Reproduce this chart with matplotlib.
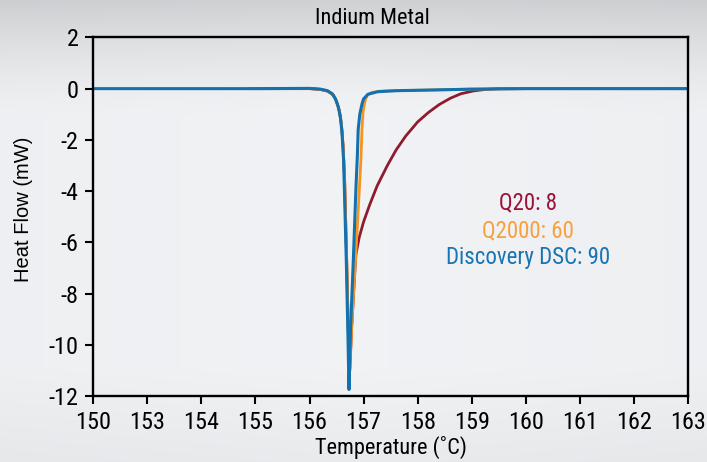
import numpy as np
import matplotlib
matplotlib.use("Agg")
import matplotlib.pyplot as plt

plt.rcParams["font.family"] = ["Roboto Condensed", "Liberation Sans", "DejaVu Sans"]
plt.rcParams["axes.unicode_minus"] = False

# Discovery DSC (blue)
dsc_temp = [152, 155, 156.0, 156.2, 156.33, 156.42, 156.48, 156.53, 156.57, 156.60,
            156.63, 156.68, 156.71, 156.73, 156.76, 156.81, 156.86, 156.885, 156.90,
            156.93, 156.97, 157.0, 157.08, 157.26, 157.6, 158.1, 159.0, 160.0, 163.0]
dsc_flow = [0, 0, 0.01, -0.02, -0.08, -0.2, -0.4, -0.7, -1.1, -1.7,
            -2.8, -6.7, -9.6, -11.75, -9.3, -6.7, -3.8, -2.6, -1.6,
            -1.0, -0.6, -0.4, -0.22, -0.12, -0.08, -0.06, -0.02, 0, 0]

# Q2000 (orange)
q2000_temp = [154.9, 156.0, 156.2, 156.34, 156.44, 156.5, 156.55, 156.59, 156.62, 156.65,
              156.69, 156.72, 156.745, 156.78, 156.85, 156.92, 156.95, 156.97, 156.99,
              157.03, 157.07, 157.15, 157.3, 157.6, 158.1, 159.0, 160.0, 163.0]
q2000_flow = [0, 0, -0.03, -0.1, -0.25, -0.5, -0.85, -1.4, -2.2, -3.6,
              -6.9, -9.7, -11.0, -9.3, -6.7, -4.0, -2.8, -1.6, -0.9,
              -0.45, -0.25, -0.15, -0.1, -0.08, -0.06, -0.02, 0, 0]

# Q20 (dark red)
q20_temp = [154.9, 156.0, 156.2, 156.34, 156.44, 156.5, 156.55, 156.59, 156.62, 156.65,
            156.69, 156.72, 156.745, 156.78, 156.85, 156.86, 156.92, 157.0, 157.11,
            157.25, 157.44, 157.6, 157.78, 158.0, 158.2, 158.4, 158.61, 158.8, 159.03,
            159.25, 159.5, 163.0]
q20_flow = [0, 0, -0.03, -0.1, -0.25, -0.5, -0.85, -1.4, -2.2, -3.6,
            -6.9, -9.7, -11.0, -9.3, -6.7, -6.45, -5.8, -5.2, -4.55,
            -3.8, -3.0, -2.4, -1.85, -1.3, -0.93, -0.62, -0.37, -0.2, -0.09,
            -0.03, 0, 0]

x_ticks = [152, 153, 154, 155, 156, 157, 158, 159, 160, 161, 162, 163]
x_tick_labels = ["150", "153", "154", "155", "156", "157", "158", "159", "160", "161", "162", "163"]
y_ticks = [2, 0, -2, -4, -6, -8, -10, -12]

labels = ["Q20: 8", "Q2000: 60", "Discovery DSC: 90"]
label_y = [-4.46, -5.55, -6.6]

blue = "#1272b0"
orange = "#f7941d"
red = "#8e1b2e"
text_colors = ["#9b1239", "#f8a040", "#1874b3"]

fig = plt.figure(figsize=(7.07, 4.62), dpi=100)

# soft grey backdrop
bg = fig.add_axes([0, 0, 1, 1], zorder=-10)
yy = np.linspace(0, 1, 200)[:, None]
xx = np.linspace(0, 1, 300)[None, :]
shade = 0.955 - 0.13 * np.clip(1 - yy / 0.25, 0, 1) ** 1.5 - 0.03 * np.clip((yy - 0.8) / 0.2, 0, 1) \
        - 0.02 * np.abs(xx - 0.5)
bg.imshow(np.dstack([shade - 0.01, shade - 0.005, shade + 0.005]).clip(0, 1),
          aspect="auto", extent=[0, 1, 0, 1], origin="upper")
bg.axis("off")

ax = fig.add_axes([0.132, 0.143, 0.841, 0.776])
ax.patch.set_alpha(0)

ax.plot(q20_temp, q20_flow, color=red, lw=2.0, solid_capstyle="round")
ax.plot(q2000_temp, q2000_flow, color=orange, lw=2.0, solid_capstyle="round")
ax.plot(dsc_temp, dsc_flow, color=blue, lw=2.2, solid_capstyle="round")

for txt, y, c in zip(labels, label_y, text_colors):
    ax.text(160.04, y, txt, color=c, fontsize=16.5, ha="center", va="center")

ax.set_xlim(152, 163)
ax.set_ylim(-12, 2)
ax.set_xticks(x_ticks)
ax.set_xticklabels(x_tick_labels)
ax.set_yticks(y_ticks)
ax.set_yticklabels([str(v) for v in y_ticks])

for s in ax.spines.values():
    s.set_linewidth(1.7)
ax.tick_params(direction="out", length=5.5, width=1.5, labelsize=17.5)
ax.tick_params(axis="x", pad=5.5)
ax.tick_params(axis="y", pad=5)

ax.set_xlabel("Temperature (˚C)", fontsize=16, labelpad=1)
ax.set_ylabel("Heat Flow (mW)", fontsize=14.5, family=["Liberation Sans", "DejaVu Sans"], va="center")
ax.yaxis.set_label_coords(-0.118, 0.52)
ax.text(0.47, 1.0 + 8 / 358, "Indium Metal", transform=ax.transAxes, fontsize=16,
        ha="center", va="bottom")

fig.savefig("out.png", dpi=100)
